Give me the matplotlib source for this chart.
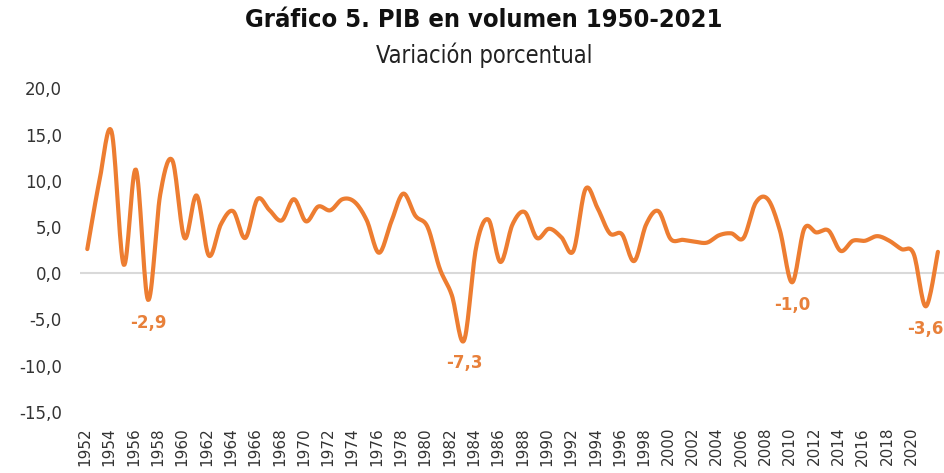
import numpy as np
import matplotlib.pyplot as plt
from matplotlib.transforms import ScaledTranslation

# datos (variacion % del PIB en volumen)
years = list(range(1951, 2022))
growth = [2.6, 10.0, 15.3, 0.9, 11.2, -2.9, 8.5, 12.2, 3.8, 8.4,
          1.9, 5.3, 6.7, 3.8, 8.0, 6.8, 5.7, 8.0, 5.6, 7.2,
          6.8, 8.0, 7.7, 5.7, 2.2, 5.5, 8.6, 6.2, 5.0, 0.5,
          -2.4, -7.3, 2.8, 5.8, 1.2, 5.3, 6.6, 3.8, 4.8, 3.9,
          2.4, 9.1, 7.0, 4.3, 4.2, 1.3, 5.3, 6.7, 3.7, 3.6,
          3.4, 3.3, 4.1, 4.3, 3.8, 7.6, 8.0, 4.6, -1.0, 4.8,
          4.4, 4.6, 2.4, 3.5, 3.5, 4.0, 3.5, 2.6, 2.1, -3.6, 2.3]
labelled_years = [1956, 1982, 2009, 2020]
tick_years = list(range(1952, 2021, 2))
y_ticks = [-15, -10, -5, 0, 5, 10, 15, 20]

ORANGE = "#ED7D31"


def smooth(x, y, n=16):
    """linea suavizada tipo Excel (bezier / catmull-rom)"""
    x = np.asarray(x, float)
    y = np.asarray(y, float)
    px = np.concatenate([[x[0]], x, [x[-1]]])
    py = np.concatenate([[y[0]], y, [y[-1]]])
    t = np.linspace(0, 1, n, endpoint=False)[:, None]
    xs, ys = [], []
    for i in range(1, len(px) - 2):
        p0 = np.array([px[i], py[i]])
        p3 = np.array([px[i + 1], py[i + 1]])
        b1 = p0 + (p3 - np.array([px[i - 1], py[i - 1]])) / 6
        b2 = p3 - (np.array([px[i + 2], py[i + 2]]) - p0) / 6
        pts = ((1 - t) ** 3 * p0 + 3 * (1 - t) ** 2 * t * b1
               + 3 * (1 - t) * t ** 2 * b2 + t ** 3 * p3)
        xs.append(pts[:, 0])
        ys.append(pts[:, 1])
    xs.append([x[-1]])
    ys.append([y[-1]])
    return np.concatenate(xs), np.concatenate(ys)


fig = plt.figure(figsize=(9.44, 4.73), dpi=100)
ax = fig.add_axes([80 / 944, 1 - 411.7 / 473, 864 / 944, (411.7 - 88.3) / 473])

ax.axhline(0, color="#D9D9D9", lw=1.5, zorder=1)
sx, sy = smooth(years, growth)
ax.plot(sx, sy, color=ORANGE, lw=3.0, solid_capstyle="round", zorder=3)

for yr in labelled_years:
    v = growth[years.index(yr)]
    ax.annotate(f"{v:.1f}".replace(".", ","), (yr, v), xytext=(0, -16.5),
                textcoords="offset points", ha="center", va="center",
                fontsize=12, fontweight="bold", color="#E8803A",
                annotation_clip=False)

ax.set_xlim(1950.4, 2021.5)
ax.set_ylim(-15, 20)
ax.set_yticks(y_ticks, [f"{v:.1f}".replace(".", ",") for v in y_ticks])
ax.set_xticks(tick_years, [str(y) for y in tick_years], rotation=90)
ax.tick_params(axis="y", length=0, pad=13, labelsize=12, labelcolor="#333333")
ax.tick_params(axis="x", length=0, pad=11, labelsize=11, labelcolor="#333333")
for s in ax.spines.values():
    s.set_visible(False)

shift = ScaledTranslation(-0.145, 0, fig.dpi_scale_trans)
for lbl in ax.get_xticklabels():
    lbl.set_transform(lbl.get_transform() + shift)

fig.text(484 / 944, 1 - 20 / 473, "Gráfico 5. PIB en volumen 1950-2021",
         ha="center", va="center", fontsize=18.3, fontweight="bold",
         fontstretch="condensed", color="#111111")
fig.text(484 / 944, 1 - 55 / 473, "Variación porcentual",
         ha="center", va="center", fontsize=17,
         fontstretch="condensed", color="#222222")

fig.savefig("out.png", dpi=100)
